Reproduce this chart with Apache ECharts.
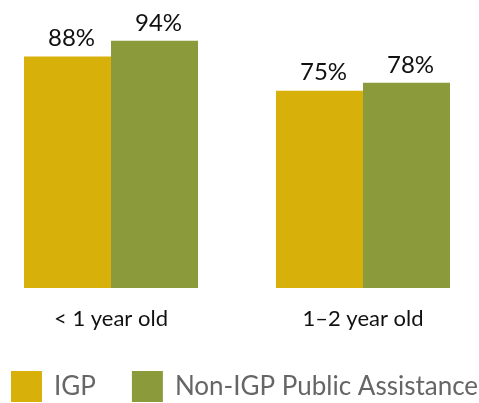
<!DOCTYPE html>
<html>
<head>
<meta charset="utf-8">
<script src="https://cdn.jsdelivr.net/npm/echarts@6/dist/echarts.min.js"></script>
<style>
  html, body { margin: 0; padding: 0; background: #fff; overflow: hidden; }
  /* chart is a bit wider than the window so the groups land where the original has them */
  #chart { width: 504px; height: 403px; position: relative; left: -15px; }
</style>
</head>
<body>
<div id="chart"></div>
<script>
// chart data
var categories = ["< 1 year old", "1\u20132 year old"];
var igpValues = [88, 75];
var nonIgpValues = [94, 78];
var seriesNames = ["IGP", "Non-IGP Public Assistance"];

var chart = echarts.init(document.getElementById("chart"));

var labelStyle = {
  show: true,
  position: "top",
  distance: 6,
  offset: [4, 0],
  color: "#111",
  fontFamily: "Lato",
  fontSize: 24,
  formatter: function (p) {
    return p.value + "%";
  }
};

chart.setOption({
  animation: false,
  grid: {
    left: 0,
    right: 0,
    top: 25,
    bottom: 115
  },
  legend: {
    left: 26,
    top: 371,
    padding: 0,
    itemWidth: 31,
    itemHeight: 31,
    itemGap: 36,
    icon: "rect",
    textStyle: {
      color: "#666",
      fontFamily: "Lato",
      fontSize: 26,
      padding: [0, 0, 0, 7]
    },
    data: seriesNames
  },
  xAxis: {
    type: "category",
    data: categories,
    axisLine: { show: false },
    axisTick: { show: false },
    axisLabel: {
      color: "#111",
      fontFamily: "Lato",
      fontSize: 22,
      margin: 20
    }
  },
  yAxis: {
    type: "value",
    min: 0,
    max: 100,
    show: false,
    splitLine: { show: false }
  },
  series: [
    {
      name: seriesNames[0],
      type: "bar",
      data: igpValues,
      barWidth: 87,
      barGap: "0%",
      itemStyle: { color: "#D7B10A" },
      label: labelStyle
    },
    {
      name: seriesNames[1],
      type: "bar",
      data: nonIgpValues,
      barWidth: 87,
      barGap: "0%",
      itemStyle: { color: "#8B9A3A" },
      label: labelStyle
    }
  ]
});
</script>
</body>
</html>
